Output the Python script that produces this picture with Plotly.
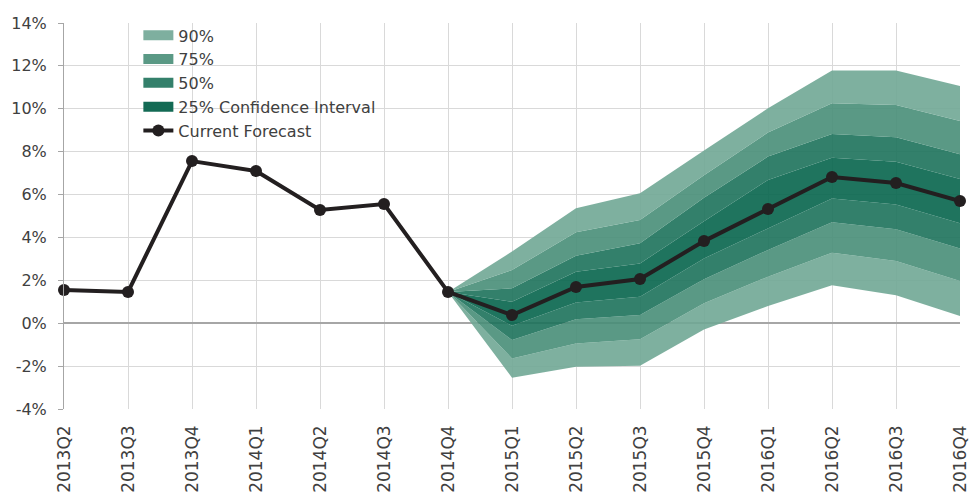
import plotly.graph_objects as go

# Quarterly growth series (percent)
quarters = ["2013Q2", "2013Q3", "2013Q4", "2014Q1", "2014Q2", "2014Q3", "2014Q4",
            "2015Q1", "2015Q2", "2015Q3", "2015Q4", "2016Q1", "2016Q2", "2016Q3", "2016Q4"]
forecast = [1.55, 1.46, 7.56, 7.10, 5.28, 5.56, 1.46, 0.38, 1.69, 2.06, 3.83, 5.33, 6.82, 6.54, 5.70]

# Fan chart bounds, starting from the last observed quarter
fan_quarters = ["2014Q4", "2015Q1", "2015Q2", "2015Q3", "2015Q4", "2016Q1", "2016Q2", "2016Q3", "2016Q4"]
upper90 = [1.46, 3.34, 5.36, 6.06, 8.05, 10.02, 11.78, 11.78, 11.06]
upper75 = [1.46, 2.48, 4.24, 4.81, 6.90, 8.89, 10.26, 10.18, 9.43]
upper50 = [1.46, 1.63, 3.15, 3.73, 5.85, 7.77, 8.82, 8.67, 7.88]
upper25 = [1.46, 1.00, 2.40, 2.79, 4.75, 6.68, 7.72, 7.53, 6.73]
lower25 = [1.46, -0.12, 0.97, 1.24, 3.02, 4.43, 5.82, 5.54, 4.66]
lower50 = [1.46, -0.78, 0.18, 0.38, 2.05, 3.42, 4.71, 4.38, 3.49]
lower75 = [1.46, -1.64, -0.94, -0.75, 0.93, 2.17, 3.29, 2.90, 1.97]
lower90 = [1.46, -2.54, -2.03, -1.98, -0.29, 0.80, 1.77, 1.30, 0.34]

# Y-axis ticks
y_ticks = [-4, -2, 0, 2, 4, 6, 8, 10, 12, 14]
y_tick_labels = ["-4%", "-2%", "0%", "2%", "4%", "6%", "8%", "10%", "12%", "14%"]

band_names = ["90%", "75%", "50%", "25% Confidence Interval"]
band_colors = ["#7eaf9f", "#5a9985", "#34806b", "#136a54"]
band_fill = ["rgba(112,167,149,0.9)", "rgba(72,142,120,0.9)", "rgba(29,114,91,0.9)",
             "rgba(7,101,77,0.9)"]

FONT = "DejaVu Sans, sans-serif"
TEXT = "#404040"

fig = go.Figure()

# Non-overlapping band strips stacked from the 90% lower bound upward
edges = [lower90, lower75, lower50, lower25, upper25, upper50, upper75, upper90]
strip_band = [0, 1, 2, 3, 2, 1, 0]  # band index of each strip between consecutive edges
fig.add_trace(go.Scatter(x=fan_quarters, y=edges[0], mode="lines",
                         line=dict(width=0), showlegend=False, hoverinfo="skip"))
for i, b in enumerate(strip_band):
    fig.add_trace(go.Scatter(x=fan_quarters, y=edges[i + 1], mode="lines",
                             line=dict(width=0), fill="tonexty",
                             fillcolor=band_fill[b], showlegend=False,
                             hoverinfo="skip"))

# Legend swatches for the bands
for rank, (name, color) in enumerate(zip(band_names, band_colors)):
    fig.add_trace(go.Scatter(x=[None], y=[None], mode="lines", name=name,
                             line=dict(color=color, width=10), legendrank=rank + 1))

fig.add_trace(go.Scatter(x=quarters, y=forecast, mode="lines+markers",
                         name="Current Forecast", legendrank=5, cliponaxis=False,
                         line=dict(color="#231f20", width=4),
                         marker=dict(color="#231f20", size=12)))

fig.update_layout(
    width=970, height=495,
    margin=dict(l=64, r=10, t=23, b=86),
    paper_bgcolor="white", plot_bgcolor="white",
    font=dict(family=FONT, color=TEXT, size=16),
    showlegend=True,
    legend=dict(x=0.083, y=1.012, xanchor="left", yanchor="top",
                traceorder="normal",
                bgcolor="rgba(0,0,0,0)", font=dict(size=16, color=TEXT),
                tracegroupgap=0, itemwidth=30),
)

fig.update_xaxes(
    type="category", categoryorder="array", categoryarray=quarters,
    range=[0, len(quarters) - 1], automargin=False,
    showgrid=True, gridcolor="#d9d9d9", gridwidth=1,
    tickangle=-90, ticks="", showline=False, zeroline=False,
    ticklabelstandoff=12,
    tickfont=dict(size=17, color=TEXT),
)

fig.update_yaxes(
    range=[-4, 14], tickvals=y_ticks, ticktext=y_tick_labels, automargin=False,
    showgrid=True, gridcolor="#d9d9d9", gridwidth=1,
    zeroline=True, zerolinecolor="#a6a6a6", zerolinewidth=1.5,
    showline=True, linecolor="#a6a6a6", linewidth=1,
    ticks="outside", ticklen=5, tickcolor="#a6a6a6",
    ticklabelstandoff=8,
    tickfont=dict(size=16, color=TEXT),
)

fig.write_html("out.html")
